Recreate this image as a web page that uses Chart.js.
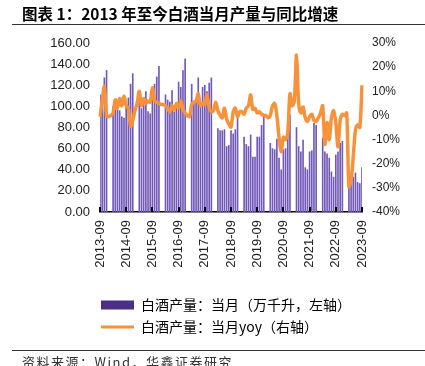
<!DOCTYPE html>
<html><head><meta charset="utf-8">
<script src="https://cdn.jsdelivr.net/npm/chart.js@4.4.0/dist/chart.umd.min.js"></script>
<style>
html,body{margin:0;padding:0;background:#fff;}
#wrap{position:relative;width:425px;height:366px;overflow:hidden;background:#fff;}
#title{position:absolute;left:22px;top:2px;font:bold 15.5px "Noto Sans CJK SC","Liberation Sans",sans-serif;color:#000;white-space:nowrap;}
.rule{position:absolute;left:12px;width:413px;height:0;border-top:1.5px solid #333;}
#source{position:absolute;left:22px;top:352px;font:13px "Noto Sans CJK SC",sans-serif;letter-spacing:1.5px;color:#333;white-space:nowrap;}
canvas{position:absolute;left:0;top:0;}
</style></head>
<body><div id="wrap">
<canvas id="c" width="425" height="366"></canvas>
<div id="title">图表 1：2013 年至今白酒当月产量与同比增速</div>
<div class="rule" style="top:24px"></div>
<div class="rule" style="top:350px"></div>
<div id="source">资料来源：Wind，华鑫证券研究</div>
</div>
<script>
// Category axis: months 2013-09 .. 2023-09
const months = [];
for (let y = 2013, m = 9; y < 2023 || (y === 2023 && m <= 9); m++) {
  if (m > 12) { m = 1; y++; }
  if (y === 2023 && m > 9) break;
  months.push(y + '-' + String(m).padStart(2, '0'));
}
// 白酒产量：当月（万千升）— Jan/Feb not published (null)
const production = [
  111, 105, 127, 134,                                      // 2013 Sep-Dec
  null, null, 100, 97, 97, 96, 90, 89, 104, 108, 121, 131, // 2014
  null, null, 108, 98, 105, 114, 95, 93, 112, 121, 128, 138, // 2015
  null, null, 111, 106, 104, 115, 95, 100, 123, 118, 134, 145, // 2016
  null, null, 121, 104, 104, 127, 102, 118, 120, 114, 122, 127, // 2017
  null, null, 79, 77, 77, 78, 62, 63, 77, 74, 78, 91,      // 2018
  null, null, 71, 64, 62, 73, 52, 52, 71, 71, 82, 91,      // 2019
  null, null, 65, 60, 59, 69, 51, 40, 59, 60, 72, 92,      // 2020
  null, null, 80, 62, 57, 68, 42, 40, 57, 58, 84, 82,      // 2021
  null, null, 70, 57, 55, 51, 38, 33, 54, 57, 65, 67,      // 2022
  null, null, 24, 30, 33, 37, 28, 27, 42                   // 2023 Jan-Sep
];
// 白酒产量：当月yoy（%）
const yoy = [
  -0.5, 6, 12, 0,
  -0.5, 0, 1, 6.5, 3, 7, 4, 8, 4, 3, -4.5, -2,
  2, 5, 10, 4, 7, 5, 6, 5.5, 11.5, 6, 5.5, 5,
  4.5, 4.5, 4, 3, 1.5, 4, 2.5, 5, 3, 6, 2.5, 1,
  0, -0.5, 4.5, 5.5, 6, 9, 4, 5, 4.5, 8.5, 3.5, 1.5,
  2, 5.5, 2, 0, -1, 3, -1.5, -3.5, -4.8, 1.5, 3, -0.5,
  1.5, 1.5, 0.5, 3, 4, 8.5, 2.5, 3, 1, 1.5, 0.5, 0,
  0, -1, 0, 4, 5, 0, -9, -15, -9, -10, -7, 9,
  4, 6, 25, 5, 1, 3.5, -1, -2.5, -0.5, 0.5, -2, -2.5,
  -1, 1, 4, -12, -3, -10, -1, 2, -3, -13, -2, 0.5,
  0, 1, -29.5, -27, -17, -6, -4, -5, 12.5
];
const leftTicks = [0, 20, 40, 60, 80, 100, 120, 140, 160];
const rightTicks = [-40, -30, -20, -10, 0, 10, 20, 30];
const seriesNames = ['白酒产量：当月（万千升，左轴）', '白酒产量：当月yoy（右轴）'];

const BAR = '#7259b8', BAR_LEG = '#4b2e85', LINE = '#f7923a';
const NUM_FONT = 'Liberation Sans';
const CJK_FONT = 'Noto Sans CJK SC';

const innerTicks = {
  id: 'innerTicks',
  afterDatasetsDraw(chart) {
    const xs = chart.scales.x, ctx = chart.ctx, b = chart.chartArea.bottom;
    ctx.save();
    ctx.strokeStyle = '#000'; ctx.lineWidth = 2;
    months.forEach((m, i) => {
      if (i % 12 === 0) {
        const px = Math.round(xs.getPixelForValue(i));
        ctx.beginPath(); ctx.moveTo(px, b); ctx.lineTo(px, b - 5); ctx.stroke();
      }
    });
    ctx.restore();
  },
  afterLayout(chart) {
    const lg = chart.legend;
    if (lg) { lg.left -= 7; lg.right -= 7; }
  }
};

new Chart(document.getElementById('c'), {
  data: {
    labels: months,
    datasets: [
      { type: 'bar', label: seriesNames[0], data: production, backgroundColor: BAR,
        barThickness: 1, yAxisID: 'y', order: 2 },
      { type: 'line', label: seriesNames[1], data: yoy, borderColor: LINE, backgroundColor: LINE,
        borderWidth: 3.5, pointRadius: 0, tension: 0.3, spanGaps: true, yAxisID: 'y1', order: 1 }
    ]
  },
  options: {
    responsive: false, animation: false,
    layout: { padding: { left: 0, right: 0, top: 43, bottom: 22 } },
    plugins: {
      tooltip: { enabled: false },
      legend: {
        position: 'bottom', align: 'start', fullSize: false,
        labels: {
          usePointStyle: true, pointStyleWidth: 33, boxHeight: 9, padding: 8,
          color: '#222', font: { family: CJK_FONT, size: 14 },
          generateLabels: () => [
            { text: seriesNames[0], fillStyle: BAR_LEG, strokeStyle: BAR_LEG, lineWidth: 0, pointStyle: 'rect', datasetIndex: 0 },
            { text: seriesNames[1], fillStyle: LINE, strokeStyle: LINE, lineWidth: 3, pointStyle: 'line', datasetIndex: 1 }
          ]
        }
      }
    },
    scales: {
      x: {
        type: 'category', offset: false,
        grid: { display: false, drawTicks: false },
        border: { display: true, color: '#000', width: 1.5 },
        ticks: {
          autoSkip: false, minRotation: 90, maxRotation: 90, padding: 8, color: '#222',
          font: { family: NUM_FONT, size: 13 },
          callback: (v, i) => (i % 12 === 0 ? months[i] : '')
        },
        afterFit(s) { s.height = 78; }
      },
      y: {
        position: 'left', min: 0, max: 160,
        grid: { display: false, drawTicks: false }, border: { display: false },
        afterBuildTicks(s) { s.ticks = leftTicks.map(v => ({ value: v })); },
        ticks: { padding: 10, color: '#222', font: { family: NUM_FONT, size: 13 },
                 callback: v => Number(v).toFixed(2) },
        afterFit(s) { s.width = 100; }
      },
      y1: {
        position: 'right', min: -40, max: 30,
        grid: { display: false, drawTicks: false }, border: { display: false },
        afterBuildTicks(s) { s.ticks = rightTicks.map(v => ({ value: v })); },
        ticks: { padding: 10, color: '#222', font: { family: NUM_FONT, size: 12 },
                 callback: v => v + '%' },
        afterFit(s) { s.width = 63; }
      }
    }
  },
  plugins: [innerTicks]
});
</script>
</body></html>
